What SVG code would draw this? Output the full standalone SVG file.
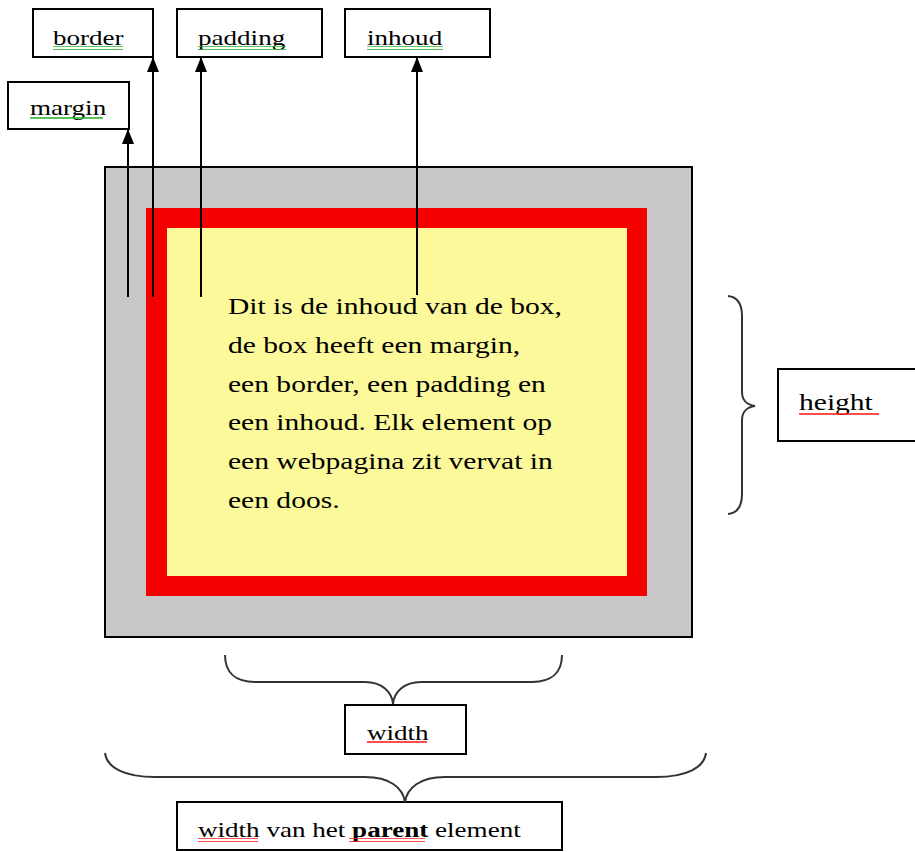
<svg xmlns="http://www.w3.org/2000/svg" width="915" height="852" viewBox="0 0 915 852">
<style>
.lbl{fill:#fff;stroke:#000;stroke-width:2}
.t{font-family:"Liberation Serif","Times New Roman",serif;font-size:22px;fill:#000}
.t24{font-size:24px}
.con{stroke:#000;stroke-width:2;fill:none}
.brace{stroke:#333;stroke-width:2;fill:none}
</style>
<defs>
<marker id="ah" markerUnits="userSpaceOnUse" markerWidth="15" markerHeight="12" refX="15" refY="6" orient="auto" viewBox="0 0 15 12">
<path d="M0,0 L15,6 L0,12 z" fill="#000"/>
</marker>
<pattern id="sqG" width="4" height="4" patternUnits="userSpaceOnUse">
<path d="M0,3 L1,1 L2,3 L3,1 L4,3" stroke="#2db52d" stroke-width="1" fill="none"/>
</pattern>
<pattern id="sqR" width="4" height="4" patternUnits="userSpaceOnUse">
<path d="M0,3 L1,1 L2,3 L3,1 L4,3" stroke="#ff2020" stroke-width="1" fill="none"/>
</pattern>
</defs>
<rect width="915" height="852" fill="#fff"/>

<g id="box">
<rect x="105" y="167" width="587" height="470" fill="#c8c8c8" stroke="#000" stroke-width="2"/>
<rect x="146" y="208" width="501" height="388" fill="#f50000"/>
<rect x="167" y="228" width="460" height="348" fill="#fcf99a"/>
<g class="t t24">
<text transform="translate(228 314) scale(1.231 1)">Dit is de inhoud van de box,</text>
<text transform="translate(228 353) scale(1.231 1)">de box heeft een margin,</text>
<text transform="translate(228 392) scale(1.231 1)">een border, een padding en</text>
<text transform="translate(228 430) scale(1.231 1)">een inhoud. Elk element op</text>
<text transform="translate(228 469) scale(1.231 1)">een webpagina zit vervat in</text>
<text transform="translate(228 508) scale(1.231 1)">een doos.</text>
</g>
</g>

<g id="border">
<rect class="lbl" x="33" y="9" width="120" height="48"/>
<text class="t" transform="translate(53 45) scale(1.231 1)">border</text>
<rect x="53" y="46" width="70" height="4" fill="url(#sqG)"/>
</g>
<g id="padding">
<rect class="lbl" x="177" y="9" width="145" height="48"/>
<text class="t" transform="translate(198 45) scale(1.231 1)">padding</text>
<rect x="198" y="46" width="88" height="4" fill="url(#sqG)"/>
</g>
<g id="inhoud">
<rect class="lbl" x="345" y="9" width="145" height="48"/>
<text class="t" transform="translate(367 45) scale(1.231 1)">inhoud</text>
<rect x="367" y="46" width="76" height="4" fill="url(#sqG)"/>
</g>
<g id="margin">
<rect class="lbl" x="8" y="82" width="121" height="47"/>
<text class="t" transform="translate(30 115) scale(1.231 1)">margin</text>
<rect x="30" y="116" width="73" height="4" fill="url(#sqG)"/>
</g>
<g id="height">
<rect class="lbl" x="778" y="369" width="140" height="72"/>
<text class="t t24" transform="translate(799 410) scale(1.231 1)">height</text>
<rect x="799" y="411" width="80" height="4" fill="url(#sqR)"/>
</g>
<g id="width">
<rect class="lbl" x="345" y="705" width="121" height="49"/>
<text class="t" transform="translate(367 740) scale(1.231 1)">width</text>
<rect x="367" y="741" width="60" height="4" fill="url(#sqR)"/>
</g>
<g id="parent">
<rect class="lbl" x="177" y="802" width="385" height="48"/>
<text class="t" transform="translate(198 837) scale(1.231 1)">width van het <tspan font-weight="bold">parent</tspan> element</text>
<rect x="198" y="838" width="60" height="4" fill="url(#sqR)"/>
<rect x="349" y="838" width="76" height="4" fill="url(#sqR)"/>
</g>

<g id="connectors">
<line class="con" x1="128" y1="297" x2="128" y2="129" marker-end="url(#ah)"/>
<line class="con" x1="153" y1="297" x2="153" y2="57" marker-end="url(#ah)"/>
<line class="con" x1="201" y1="297" x2="201" y2="57" marker-end="url(#ah)"/>
<line class="con" x1="417" y1="295" x2="417" y2="57" marker-end="url(#ah)"/>
<path class="brace" d="M728,296 C738,297 742,304 742,316 L742,392 C742,400 747,405 755,406 C747,407 742,412 742,420 L742,494 C742,506 738,513 728,514"/>
<path class="brace" d="M225,655 C225,672 235,682 255,682 L365,682 C382,682 392,692 393,704 C394,692 404,682 421,682 L532,682 C552,682 562,672 562,655"/>
<path class="brace" d="M105,753 C107,768 125,777 155,777 L365,777 C390,777 403,788 405,802 C407,788 420,777 445,777 L656,777 C686,777 704,768 706,753"/>
</g>
</svg>
